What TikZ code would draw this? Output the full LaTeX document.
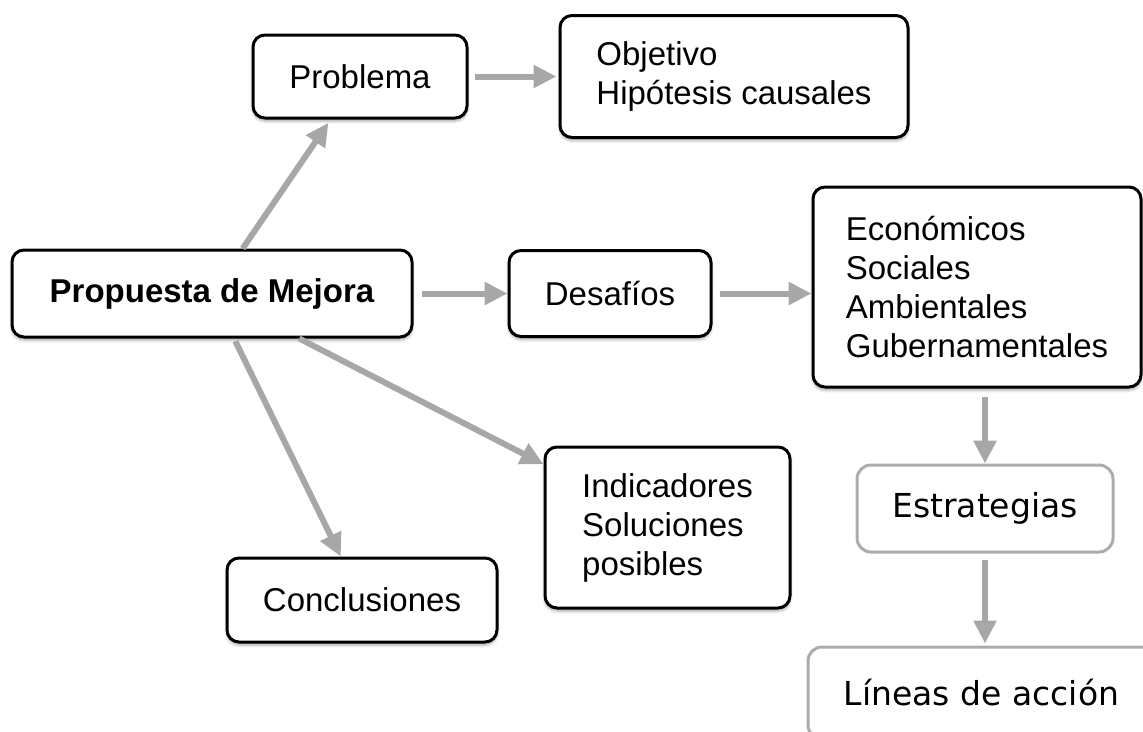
\documentclass[tikz,border=0pt]{standalone}
\usepackage{fontspec}
\setmainfont{Liberation Sans}
\newfontfamily\dejavu{DejaVu Sans}
\usetikzlibrary{arrows.meta}
\usetikzlibrary{positioning}
\usetikzlibrary{shadows.blur}
\definecolor{arrgray}{RGB}{166,167,167}
\definecolor{boxgray}{RGB}{172,172,172}

\begin{document}
\begin{tikzpicture}[x=1pt,y=-1pt,>={Triangle[length=23pt,width=22pt]}]
		\tikzstyle{box}=[rectangle,draw,rounded corners=12pt,line width=3pt,fill=white,
			align=left,font=\fontsize{33}{39}\selectfont,
			blur shadow={shadow xshift=0pt,shadow yshift=-3pt,shadow blur radius=3pt,shadow opacity=35}];
		\tikzstyle{graybox}=[rectangle,draw=boxgray,rounded corners=14pt,line width=3pt,fill=white,
			font=\dejavu\fontsize{33}{39}\selectfont];
		\tikzstyle{arr}=[->,draw=arrgray,fill=arrgray,line width=6pt];
		\useasboundingbox (0,0) rectangle (1143,731);
		\clip (0,0) rectangle (1143,731);

		\node[box,minimum width=400pt,minimum height=87pt,font=\bfseries\fontsize{33}{39}\selectfont](prop) at (212,293.5){Propuesta de Mejora};
		\node[box,minimum width=214pt,minimum height=83pt](prob) at (360,76.5){Problema};
		\node[box,minimum width=348pt,minimum height=122pt,right=90pt of prob](obj){Objetivo\\Hip\'otesis causales};
		\node[box,minimum width=202pt,minimum height=86pt,right=94pt of prop](des){Desaf\'ios};
		\node[box,minimum width=328pt,minimum height=200pt](econ) at (977,287){Econ\'omicos\\Sociales\\Ambientales\\Gubernamentales};
		\node[box,minimum width=245pt,minimum height=161pt](ind) at (667.5,527.5){Indicadores\\Soluciones\\posibles};
		\node[box,minimum width=270pt,minimum height=84pt](conc) at (362,600){Conclusiones};
		\node[graybox,minimum width=256pt,minimum height=87pt](estr) at (985,508.5){Estrategias};
		\node[graybox,minimum width=347pt,minimum height=92pt](lin) at (981.5,693){L\'ineas de acci\'on};

		\draw[arr,shorten <=6pt,shorten >=2pt](prob)--(obj);
		\draw[arr,shorten <=8pt](prop)--(des);
		\draw[arr,shorten <=7pt](des.east)--(des.east-|econ.west);
		\draw[arr,shorten >=4pt](prop)--(prob);
		\draw[arr,shorten <=3pt](prop)--(conc);
		\draw[arr](prop)--(ind);
		\draw[arr,shorten <=8pt](econ.south-|estr)--(estr);
		\draw[arr,shorten <=6pt,shorten >=2pt](estr)--(estr|-lin.north);
	\end{tikzpicture}
\end{document}
